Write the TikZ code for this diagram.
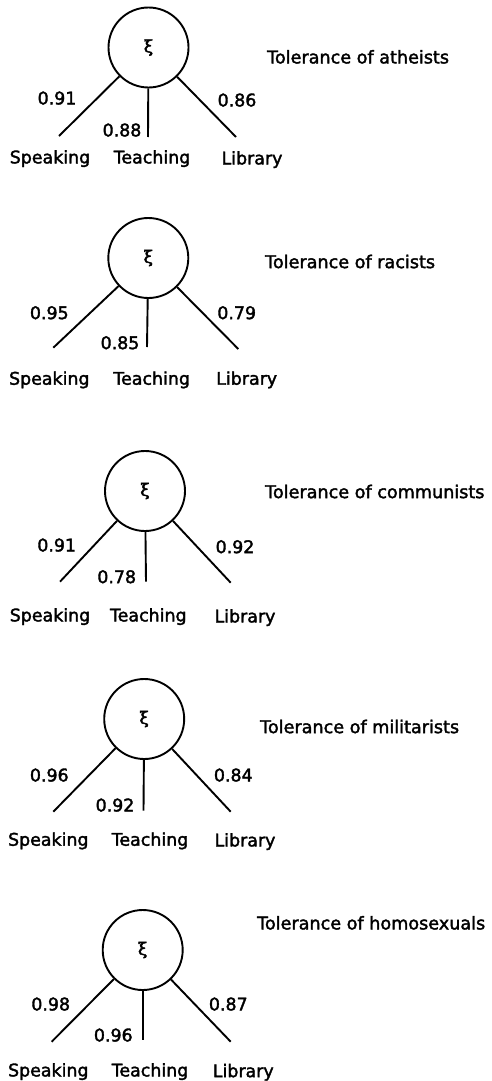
\documentclass[tikz,border=0pt]{standalone}
\usepackage{fontspec}
\setmainfont{DejaVu Sans}[FakeBold=2]
\newfontfamily\txtfont{DejaVu Sans}[FakeBold=2]
\newfontfamily\grkfont{DejaVu Serif}[FakeBold=2.5]
\begin{document}
\begin{tikzpicture}[x=1pt,y=-1pt,
  lat/.style={draw,circle,line width=1.9pt,minimum size=80pt,inner sep=0pt,
              font=\grkfont\fontsize{17}{17}\selectfont},
  edge/.style={line width=1.9pt},
  lbl/.style={font=\txtfont\fontsize{17.4}{18}\selectfont,anchor=base,yshift=-6.4pt,inner sep=0pt},
  ttl/.style={font=\txtfont\fontsize{17.6}{18}\selectfont,anchor=base west,yshift=-6.4pt,inner sep=0pt}]
\useasboundingbox (0,0) rectangle (491,1081);
\clip (0,0) rectangle (491,1081);
\fill[white] (0,0) rectangle (491,1081);

% ---------- Block 1: atheists
\node[lat] (c1) at (148.5,47.5) {ξ};
\coordinate (s1) at (59,136);
\coordinate (t1) at (148,137);
\coordinate (l1) at (236,137);
\draw[edge] (c1) -- (s1);
\draw[edge] (c1) -- (t1);
\draw[edge] (c1) -- (l1);
\node[lbl] (a1) at (57,98) {0.91};
\node[lbl] (b1) at (122,130) {0.88};
\node[lbl] (d1) at (237,100) {0.86};
\node[lbl] (sp1) at (50,157) {Speaking};
\node[lbl] (te1) at (152,157) {Teaching};
\node[lbl] (li1) at (252,158) {Library};
\node[ttl] (ti1) at (267,57) {Tolerance of atheists};

% ---------- Block 2: racists
\node[lat] (c2) at (148.3,258) {ξ};
\coordinate (s2) at (53.3,347.7);
\coordinate (t2) at (147,347);
\coordinate (l2) at (238.3,349);
\draw[edge] (c2) -- (s2);
\draw[edge] (c2) -- (t2);
\draw[edge] (c2) -- (l2);
\node[lbl] (a2) at (49.3,312.7) {0.95};
\node[lbl] (b2) at (120,342.7) {0.85};
\node[lbl] (d2) at (236.7,312.7) {0.79};
\node[lbl] (sp2) at (49.3,378.3) {Speaking};
\node[lbl] (te2) at (151.7,378.3) {Teaching};
\node[lbl] (li2) at (246.7,378.3) {Library};
\node[ttl] (ti2) at (265,261.7) {Tolerance of racists};

% ---------- Block 3: communists
\node[lat] (c3) at (145,491) {ξ};
\coordinate (s3) at (60,581.7);
\coordinate (t3) at (146,581.7);
\coordinate (l3) at (230.7,582.7);
\draw[edge] (c3) -- (s3);
\draw[edge] (c3) -- (t3);
\draw[edge] (c3) -- (l3);
\node[lbl] (a3) at (56.7,545) {0.91};
\node[lbl] (b3) at (116.7,576.7) {0.78};
\node[lbl] (d3) at (235,546.7) {0.92};
\node[lbl] (sp3) at (50,615) {Speaking};
\node[lbl] (te3) at (148.3,615) {Teaching};
\node[lbl] (li3) at (245,616) {Library};
\node[ttl] (ti3) at (265,491.7) {Tolerance of communists};

% ---------- Block 4: militarists
\node[lat] (c4) at (144.2,719) {ξ};
\coordinate (s4) at (53.3,811.7);
\coordinate (t4) at (143.5,810.7);
\coordinate (l4) at (230.7,811.7);
\draw[edge] (c4) -- (s4);
\draw[edge] (c4) -- (t4);
\draw[edge] (c4) -- (l4);
\node[lbl] (a4) at (49.3,775) {0.96};
\node[lbl] (b4) at (115,805) {0.92};
\node[lbl] (d4) at (233.3,775) {0.84};
\node[lbl] (sp4) at (48.3,839.3) {Speaking};
\node[lbl] (te4) at (150,839.3) {Teaching};
\node[lbl] (li4) at (245,840) {Library};
\node[ttl] (ti4) at (260,726.7) {Tolerance of militarists};

% ---------- Block 5: homosexuals
\node[lat] (c5) at (142.7,950) {ξ};
\coordinate (s5) at (51.7,1041.7);
\coordinate (t5) at (142.7,1040);
\coordinate (l5) at (230.7,1041.7);
\draw[edge] (c5) -- (s5);
\draw[edge] (c5) -- (t5);
\draw[edge] (c5) -- (l5);
\node[lbl] (a5) at (50.7,1004) {0.98};
\node[lbl] (b5) at (113.3,1035) {0.96};
\node[lbl] (d5) at (228.3,1004) {0.87};
\node[lbl] (sp5) at (48.3,1070) {Speaking};
\node[lbl] (te5) at (150,1070) {Teaching};
\node[lbl] (li5) at (243.3,1070.7) {Library};
\node[ttl] (ti5) at (257,923) {Tolerance of homosexuals};
\end{tikzpicture}
\end{document}
